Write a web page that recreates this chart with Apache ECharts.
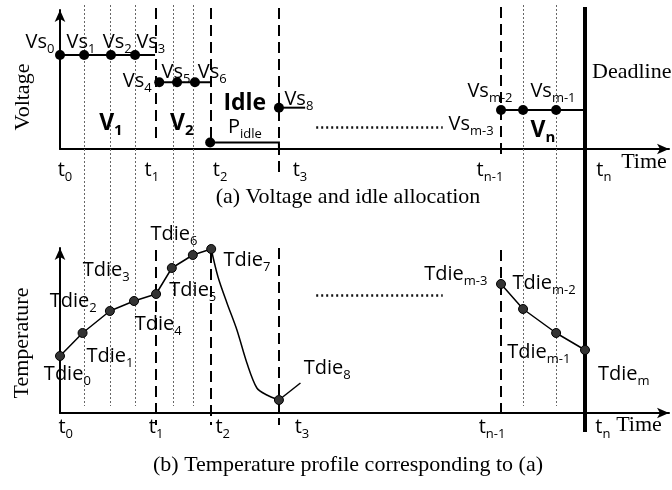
<!DOCTYPE html>
<html>
<head>
<meta charset="utf-8">
<script src="https://cdn.jsdelivr.net/npm/echarts@6/dist/echarts.min.js"></script>
<style>
html, body { margin: 0; padding: 0; background: #fff; }
#main { width: 672px; height: 490px; }
</style>
</head>
<body>
<div id="main"></div>
<script>
// time axis in arbitrary units: t0 = 0, tn (deadline) = 100
var vsTimes  = [0, 4.6, 9.7, 14.3, 18.9, 22.3, 25.7, 28.6, 41.7, 84.0, 88.2, 94.5];
var vsLevels = [1.0, 1.0, 1.0, 1.0, 0.71, 0.71, 0.71, 0.07, 0.44, 0.415, 0.415, 0.415];

// voltage runs (V1, V2, idle, Vs8, Vn)
var runStart = [0, 18.9, 28.6, 41.7, 84.0];
var runEnd   = [18.1, 28.8, 41.7, 46.7, 100];
var runLevel = [1.0, 0.71, 0.07, 0.44, 0.415];

// die temperature
var tdieTimes = [0, 4.3, 9.5, 14.1, 18.3, 21.3, 25.3, 28.8];
var tdieTemps = [57, 80, 102, 112, 119, 145, 158, 164];
var coolTimes = [28.8, 30.1, 31.8, 33.7, 35.6, 37.5, 39.4, 41.7];
var coolTemps = [164, 136, 110, 83, 50, 25, 18, 13];
var tailTimes = [41.7, 45.8];
var tailTemps = [13, 30];
var endTimes  = [84.0, 88.2, 94.5, 100];
var endTemps  = [129, 104, 80, 63];

// guides
var dotGuideTimes = [4.6, 9.5, 14.3, 21.5, 25.3, 88.2, 94.5];
var dashTimes = [18.3, 28.8, 41.7, 84.0];
var deadlineTime = 100;
var gapFrom = 48.8, gapTo = 72.9, gapVolt = 0.234, gapTemp = 118;

// labels: main text, subscript, time, value, bold?
var topLabels = [
  ['Vs', '0', -3.8, 1.138], ['Vs', '1', 4.0, 1.138], ['Vs', '2', 10.9, 1.138], ['Vs', '3', 17.3, 1.138],
  ['Vs', '4', 14.7, 0.723], ['Vs', '5', 22.1, 0.819], ['Vs', '6', 29.0, 0.819], ['Vs', '8', 45.5, 0.532],
  ['Vs', 'm-3', 78.3, 0.266], ['Vs', 'm-2', 81.9, 0.617], ['Vs', 'm-1', 93.9, 0.617],
  ['P', 'idle', 35.2, 0.234], ['Idle', '', 35.2, 0.489, 1],
  ['V', '1', 9.7, 0.277, 1], ['V', '2', 23.2, 0.277, 1], ['V', 'n', 92.0, 0.202, 1],
  ['t', '0', 0.95, -0.223], ['t', '1', 17.5, -0.223], ['t', '2', 30.5, -0.223],
  ['t', '3', 45.7, -0.223], ['t', 'n-1', 81.9, -0.223], ['t', 'n', 103.6, -0.223]
];
var bottomLabels = [
  ['Tdie', '0', 1.4, 39], ['Tdie', '1', 9.5, 57], ['Tdie', '2', 2.5, 112], ['Tdie', '3', 8.8, 143],
  ['Tdie', '4', 18.7, 89], ['Tdie', '5', 25.3, 123], ['Tdie', '6', 21.7, 179], ['Tdie', '7', 35.6, 153],
  ['Tdie', '8', 50.9, 45], ['Tdie', 'm-3', 75.4, 139], ['Tdie', 'm-2', 92.2, 130],
  ['Tdie', 'm-1', 91.2, 61], ['Tdie', 'm', 107.4, 39],
  ['t', '0', 1.1, -14], ['t', '1', 18.3, -14], ['t', '2', 31.0, -14],
  ['t', '3', 46.1, -14], ['t', 'n-1', 82.3, -14], ['t', 'n', 103.4, -14]
];

function zip(a, b) { return a.map(function (v, i) { return [v, b[i]]; }); }

var SANS = '"Open Sans"';
var SERIF = '"Liberation Serif", "Times New Roman", serif';
var rich = {
  m:  { fontFamily: SANS, fontSize: 20, lineHeight: 28, color: '#000', textBorderWidth: 0 },
  s:  { fontFamily: SANS, fontSize: 13, verticalAlign: 'bottom', color: '#000', textBorderWidth: 0 },
  b:  { fontFamily: SANS, fontSize: 23, fontWeight: 'bold', lineHeight: 30, color: '#000', textBorderWidth: 0 },
  bs: { fontFamily: SANS, fontSize: 15, fontWeight: 'bold', verticalAlign: 'bottom', color: '#000', textBorderWidth: 0 }
};

function labelData(list) {
  return list.map(function (l) {
    var txt = l[4] ? '{b|' + l[0] + '}' + (l[1] ? '{bs|' + l[1] + '}' : '')
                   : '{m|' + l[0] + '}{s|' + l[1] + '}';
    return { value: [l[2], l[3]], label: { formatter: txt } };
  });
}

// overlay grid for guides spanning both panels (units: figure rows from top)
var span = {
  dot: [5, 406],
  dashTop: [[8, 143], [8, 141], [8, 172], [7, 155]],
  dashBottom: [[250, 425], [252, 425], [248, 425], [250, 413]],
  deadline: [7, 432]
};

var axisStyle = { color: '#000', width: 2 };
function xAx(idx, show) {
  return {
    type: 'value', gridIndex: idx, min: 0, max: 116, show: show,
    axisLine: { show: show, symbol: ['none', 'arrow'], symbolSize: [8, 12], lineStyle: axisStyle },
    axisTick: { show: false }, axisLabel: { show: false }, splitLine: { show: false }
  };
}
function yAx(idx, max, show, inverse) {
  return {
    type: 'value', gridIndex: idx, min: 0, max: max, show: show, inverse: !!inverse,
    axisLine: { show: show, symbol: ['none', 'arrow'], symbolSize: [8, 12], lineStyle: axisStyle },
    axisTick: { show: false }, axisLabel: { show: false }, splitLine: { show: false }
  };
}

var chart = echarts.init(document.getElementById('main'));

var textLabel = { show: true, position: 'inside', color: '#000', opacity: 1, textBorderWidth: 0, rich: rich };

var option = {
  animation: false,
  backgroundColor: '#fff',
  grid: [
    { left: 60, right: 3, top: 10, height: 139, outerBoundsMode: 'none' },
    { left: 60, right: 3, top: 248, height: 165, outerBoundsMode: 'none' },
    { left: 60, right: 3, top: 0, height: 490, outerBoundsMode: 'none' }
  ],
  xAxis: [xAx(0, true), xAx(1, true), xAx(2, false)],
  yAxis: [yAx(0, 1.48, true), yAx(1, 165, true), yAx(2, 490, false, true)],
  graphic: [
    { type: 'text', x: 23, y: 97, rotation: Math.PI / 2, style: { text: 'Voltage', font: '22px ' + SERIF, fill: '#000', align: 'center', verticalAlign: 'middle' } },
    { type: 'text', x: 22, y: 343, rotation: Math.PI / 2, style: { text: 'Temperature', font: '22px ' + SERIF, fill: '#000', align: 'center', verticalAlign: 'middle' } },
    { type: 'text', x: 348, y: 197, style: { text: '(a) Voltage and idle allocation', font: '22px ' + SERIF, fill: '#000', align: 'center', verticalAlign: 'middle' } },
    { type: 'text', x: 348, y: 465, style: { text: '(b) Temperature profile corresponding to (a)', font: '22px ' + SERIF, fill: '#000', align: 'center', verticalAlign: 'middle' } },
    { type: 'text', x: 592, y: 72, style: { text: 'Deadline', font: '22px ' + SERIF, fill: '#000', align: 'left', verticalAlign: 'middle' } },
    { type: 'text', x: 644, y: 162, style: { text: 'Time', font: '22px ' + SERIF, fill: '#000', align: 'center', verticalAlign: 'middle' } },
    { type: 'text', x: 639, y: 425, style: { text: 'Time', font: '22px ' + SERIF, fill: '#000', align: 'center', verticalAlign: 'middle' } }
  ],
  series: [
    // dotted sub-interval guides
    {
      type: 'lines', coordinateSystem: 'cartesian2d', xAxisIndex: 2, yAxisIndex: 2, z: 1, silent: true,
      lineStyle: { color: '#666', width: 1, type: [2, 2], opacity: 1 },
      data: dotGuideTimes.map(function (t) { return { coords: [[t, span.dot[0]], [t, span.dot[1]]] }; })
    },
    // dashed interval guides
    {
      type: 'lines', coordinateSystem: 'cartesian2d', xAxisIndex: 2, yAxisIndex: 2, z: 2, silent: true,
      lineStyle: { color: '#000', width: 2, type: [11, 6], opacity: 1 },
      data: dashTimes.map(function (t, i) { return { coords: [[t, span.dashTop[i][0]], [t, span.dashTop[i][1]]] }; })
        .concat(dashTimes.map(function (t, i) { return { coords: [[t, span.dashBottom[i][0]], [t, span.dashBottom[i][1]]] }; }))
    },
    // deadline
    {
      type: 'lines', coordinateSystem: 'cartesian2d', xAxisIndex: 2, yAxisIndex: 2, z: 2, silent: true,
      lineStyle: { color: '#000', width: 4, type: 'solid', opacity: 1 },
      data: [{ coords: [[deadlineTime, span.deadline[0]], [deadlineTime, span.deadline[1]]] }]
    },
    // voltage runs
    {
      type: 'lines', coordinateSystem: 'cartesian2d', polyline: true, xAxisIndex: 0, yAxisIndex: 0, z: 3, silent: true,
      lineStyle: { color: '#000', width: 2, opacity: 1 },
      data: runStart.map(function (s, i) {
        var c = [[s, runLevel[i]], [runEnd[i], runLevel[i]]];
        if (i === 2) c.push([runEnd[i], 0]);
        return { coords: c };
      })
    },
    // "....." gaps
    {
      type: 'lines', coordinateSystem: 'cartesian2d', xAxisIndex: 0, yAxisIndex: 0, z: 3, silent: true,
      lineStyle: { color: '#111', width: 2.5, type: [2, 3], opacity: 1 },
      data: [{ coords: [[gapFrom, gapVolt], [gapTo, gapVolt]] }]
    },
    {
      type: 'lines', coordinateSystem: 'cartesian2d', xAxisIndex: 1, yAxisIndex: 1, z: 3, silent: true,
      lineStyle: { color: '#111', width: 2.5, type: [2, 3], opacity: 1 },
      data: [{ coords: [[gapFrom, gapTemp], [gapTo, gapTemp]] }]
    },
    // voltage sample points
    {
      type: 'scatter', xAxisIndex: 0, yAxisIndex: 0, z: 4, symbolSize: 10, silent: true,
      itemStyle: { color: '#000', opacity: 1 },
      data: zip(vsTimes, vsLevels)
    },
    // temperature curves
    {
      type: 'line', xAxisIndex: 1, yAxisIndex: 1, z: 3, showSymbol: false, silent: true,
      lineStyle: { color: '#000', width: 1.5 }, data: zip(tdieTimes, tdieTemps)
    },
    {
      type: 'line', xAxisIndex: 1, yAxisIndex: 1, z: 3, showSymbol: false, silent: true, smooth: 0.3,
      lineStyle: { color: '#000', width: 1.5 }, data: zip(coolTimes, coolTemps)
    },
    {
      type: 'line', xAxisIndex: 1, yAxisIndex: 1, z: 3, showSymbol: false, silent: true,
      lineStyle: { color: '#000', width: 1.5 }, data: zip(tailTimes, tailTemps)
    },
    {
      type: 'line', xAxisIndex: 1, yAxisIndex: 1, z: 3, showSymbol: false, silent: true,
      lineStyle: { color: '#000', width: 1.5 }, data: zip(endTimes, endTemps)
    },
    {
      type: 'scatter', xAxisIndex: 1, yAxisIndex: 1, z: 4, symbolSize: 9, silent: true,
      itemStyle: { color: '#333', borderColor: '#000', borderWidth: 1, opacity: 1 },
      data: zip(tdieTimes, tdieTemps).concat([[tailTimes[0], tailTemps[0]]]).concat(zip(endTimes, endTemps))
    },
    // text labels
    {
      type: 'scatter', xAxisIndex: 0, yAxisIndex: 0, z: 6, symbolSize: 0, clip: false, silent: true,
      itemStyle: { color: 'transparent', opacity: 1 },
      label: textLabel,
      data: labelData(topLabels)
    },
    {
      type: 'scatter', xAxisIndex: 1, yAxisIndex: 1, z: 6, symbolSize: 0, clip: false, silent: true,
      itemStyle: { color: 'transparent', opacity: 1 },
      label: textLabel,
      data: labelData(bottomLabels)
    }
  ]
};

chart.setOption(option);
</script>
</body>
</html>
